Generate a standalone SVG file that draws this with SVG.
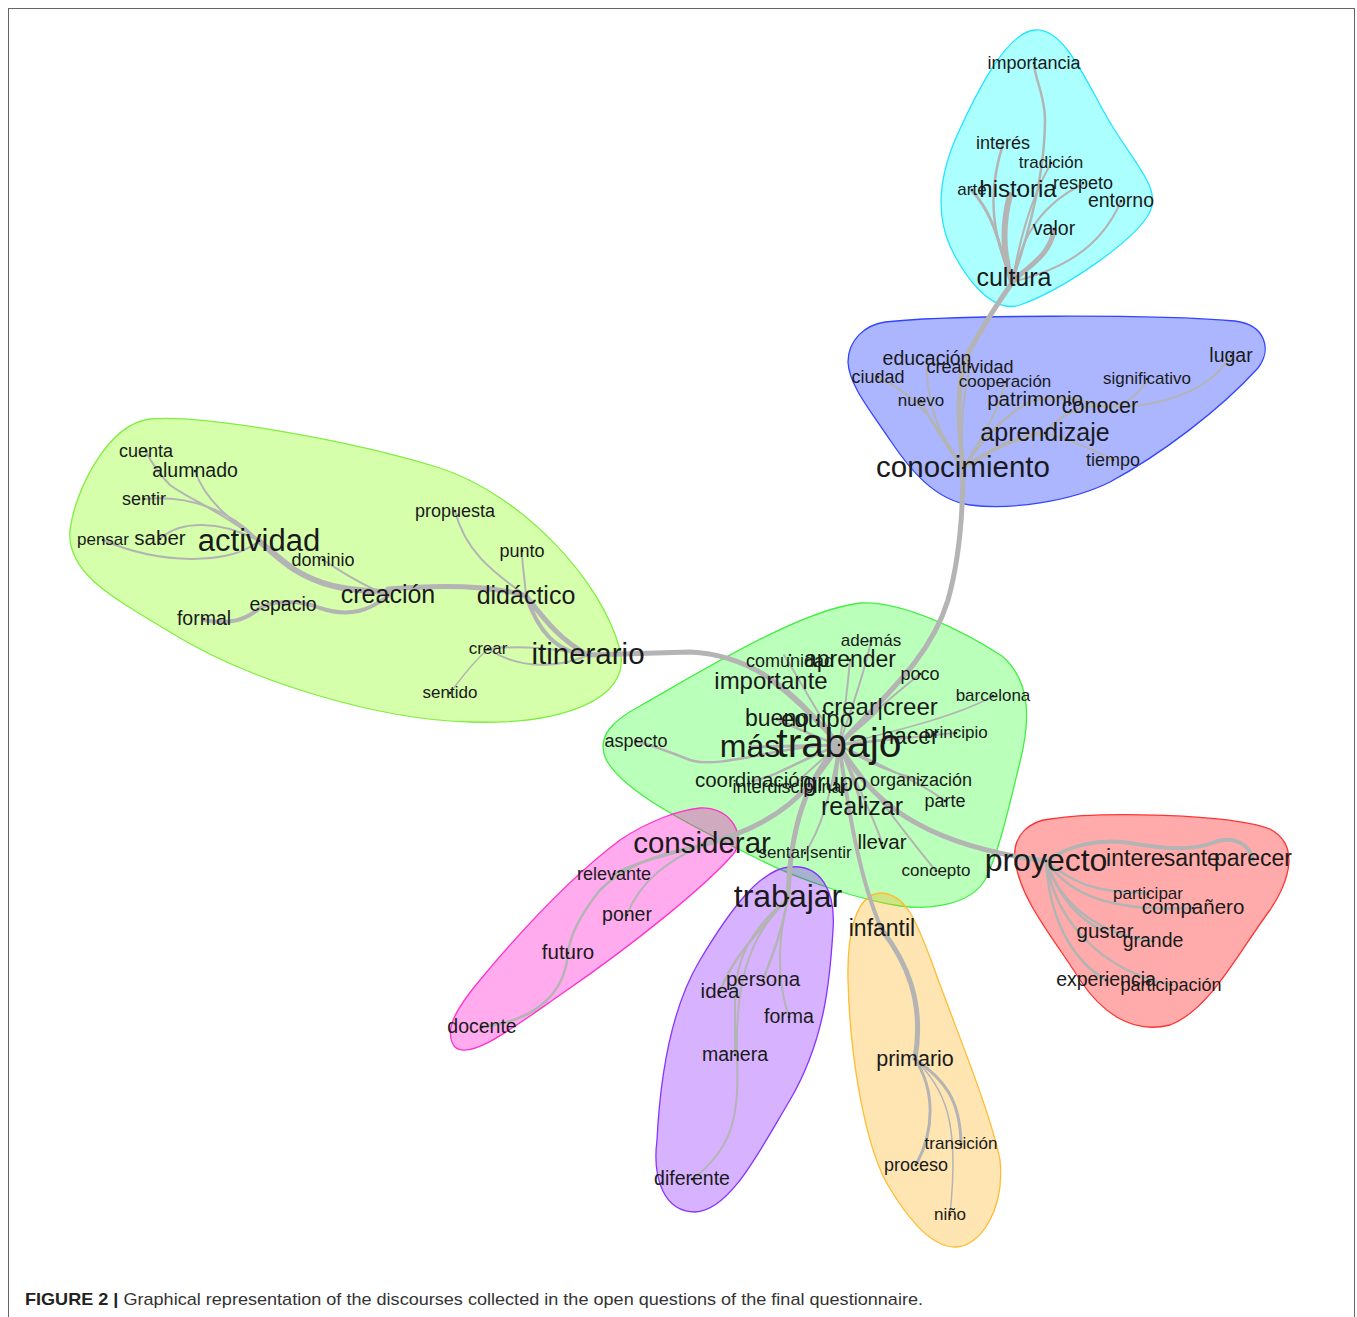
<svg xmlns="http://www.w3.org/2000/svg" width="1357" height="1317" viewBox="0 0 1357 1317">
<style>
.e{fill:none;stroke:#b4b4b4;stroke-linecap:round}
.t{font-family:"Liberation Sans",Arial,sans-serif;fill:#1a1a1a;text-anchor:middle}
.d{fill:#222}
.h{stroke-width:1.3}
</style>
<rect x="0" y="0" width="1357" height="1317" fill="#fff"/>
<rect x="8.5" y="8.5" width="1346" height="1340" fill="none" stroke="#666" stroke-width="1"/>
<g id="hulls">
<path id="hull-cyan" class="h" fill="#00ffff" fill-opacity="0.33" stroke="#22e6ff" d="M1035,30 C1062,28 1082,72 1104,112 C1130,160 1162,186 1150,212 C1134,242 1062,290 1020,305 C990,315 962,272 950,246 C935,212 940,176 955,140 C975,95 1006,32 1035,30 Z"/>
<path id="hull-blue" class="h" fill="#0022ff" fill-opacity="0.33" stroke="#3344ff" d="M885,322 C950,315 1150,314 1235,321 C1266,325 1272,350 1258,368 C1220,410 1160,455 1110,482 C1070,502 1010,510 970,505 C935,500 910,470 890,440 C870,410 849,385 848,362 C848,340 865,325 885,322 Z"/>
<path id="hull-leftgreen" class="h" fill="#80ff00" fill-opacity="0.33" stroke="#80ee40" d="M150,419 C200,414 350,440 440,468 C522,495 602,580 620,650 C632,700 560,725 470,722 C380,720 250,682 170,632 C110,596 66,572 70,530 C75,490 108,424 150,419 Z"/>
<path id="hull-centergreen" class="h" fill="#00ff00" fill-opacity="0.27" stroke="#44ee44" d="M860,603 C900,600 962,630 1002,656 C1032,682 1030,722 1020,762 C1010,802 1000,850 985,880 C970,905 930,910 900,906 C860,900 800,880 760,860 C700,830 620,792 605,757 C598,737 610,722 640,706 C700,672 800,610 860,603 Z"/>
<path id="hull-pink" class="h" fill="#ff00cc" fill-opacity="0.33" stroke="#ff33cc" d="M700,808 C726,806 746,830 735,852 C710,882 640,940 560,995 C510,1030 468,1062 454,1046 C444,1030 455,1010 480,980 C530,920 580,870 620,840 C650,820 680,810 700,808 Z"/>
<path id="hull-purple" class="h" fill="#7700ff" fill-opacity="0.3" stroke="#8833ff" d="M790,867 C820,864 836,890 833,930 C830,980 825,1040 790,1100 C760,1150 730,1211 695,1212 C665,1212 652,1180 657,1140 C660,1080 670,1010 700,960 C730,910 760,869 790,867 Z"/>
<path id="hull-orange" class="h" fill="#ffaa00" fill-opacity="0.3" stroke="#ffbb33" d="M880,893 C905,893 916,920 931,960 C956,1030 990,1110 1000,1160 C1005,1210 980,1247 955,1247 C930,1247 905,1215 885,1180 C865,1140 850,1060 848,980 C847,935 855,895 880,893 Z"/>
<path id="hull-red" class="h" fill="#ff0000" fill-opacity="0.33" stroke="#ff3333" d="M1050,819 C1100,811 1230,814 1270,829 C1300,845 1290,880 1270,910 C1240,950 1210,1010 1170,1025 C1130,1035 1100,1010 1080,980 C1055,940 1020,900 1015,860 C1012,835 1030,821 1050,819 Z"/>
</g>
<g id="connectors">
<path class="e" stroke-width="6" d="M1012,282 C1003,255 1002,225 1010,195"/>
<path class="e" stroke-width="3" d="M1012,282 C1000,250 995,215 972,191"/>
<path class="e" stroke-width="2.5" d="M1012,282 C995,240 985,200 1003,144"/>
<path class="e" stroke-width="2.5" d="M1012,282 C1030,230 1045,170 1045,120 C1045,95 1035,80 1034,64"/>
<path class="e" stroke-width="2" d="M1012,282 C1020,240 1030,200 1051,163"/>
<path class="e" stroke-width="5" d="M1012,282 C1030,265 1050,255 1054,230"/>
<path class="e" stroke-width="2" d="M1012,282 C1020,250 1030,210 1083,184"/>
<path class="e" stroke-width="2" d="M1012,282 C1060,270 1100,250 1121,201"/>
<path class="e" stroke-width="5" d="M963,468 C958,420 955,380 970,350 C985,322 1000,300 1014,280"/>
<path class="e" stroke-width="5" d="M839,745 C880,700 930,660 948,600 C962,550 963,500 963,468"/>
<path class="e" stroke-width="2" d="M963,468 C940,440 925,400 927,359"/>
<path class="e" stroke-width="2" d="M963,468 C940,430 920,395 878,378"/>
<path class="e" stroke-width="2" d="M963,468 C945,445 930,420 921,400"/>
<path class="e" stroke-width="2" d="M963,468 C960,430 962,400 970,367"/>
<path class="e" stroke-width="2" d="M963,468 C980,440 1000,410 1005,382"/>
<path class="e" stroke-width="2.5" d="M963,468 C990,430 1010,410 1035,400"/>
<path class="e" stroke-width="4" d="M963,468 C990,450 1020,435 1045,433"/>
<path class="e" stroke-width="2.5" d="M1045,433 C1060,415 1080,405 1100,406"/>
<path class="e" stroke-width="2.5" d="M1035,400 C1060,395 1080,398 1100,406"/>
<path class="e" stroke-width="2" d="M1100,406 C1120,410 1140,395 1147,379"/>
<path class="e" stroke-width="2" d="M1100,406 C1160,410 1210,390 1231,356"/>
<path class="e" stroke-width="2" d="M1045,433 C1070,440 1095,450 1113,460"/>
<path class="e" stroke-width="5" d="M839,745 C800,700 760,655 690,652 L588,655"/>
<path class="e" stroke-width="5" d="M588,655 C560,640 545,620 526,596"/>
<path class="e" stroke-width="4" d="M588,655 C555,652 538,630 526,596"/>
<path class="e" stroke-width="5" d="M526,596 C500,588 460,583 388,589"/>
<path class="e" stroke-width="6" d="M388,592 C340,590 320,585 295,570 C280,560 270,550 259,541"/>
<path class="e" stroke-width="4" d="M204,620 C230,625 245,620 260,608 C275,600 300,600 320,608 C350,618 370,610 388,596"/>
<path class="e" stroke-width="2" d="M388,595 C360,585 340,570 323,560"/>
<path class="e" stroke-width="2" d="M259,541 C220,510 190,500 170,485 C155,470 150,460 146,451"/>
<path class="e" stroke-width="2" d="M259,541 C230,520 205,500 195,471"/>
<path class="e" stroke-width="2" d="M259,541 C230,510 190,495 144,499"/>
<path class="e" stroke-width="2" d="M259,541 C220,520 180,520 160,539"/>
<path class="e" stroke-width="2" d="M259,541 C230,565 160,565 103,540"/>
<path class="e" stroke-width="2" d="M526,596 C490,570 465,550 455,511"/>
<path class="e" stroke-width="2" d="M526,596 C525,580 522,565 522,551"/>
<path class="e" stroke-width="2" d="M588,655 C550,648 520,645 488,649"/>
<path class="e" stroke-width="2" d="M588,655 C560,668 520,670 488,649"/>
<path class="e" stroke-width="1.5" d="M488,649 C470,665 460,680 450,693"/>
<path class="e" stroke-width="2" d="M839,745 C845,710 848,685 850,660"/>
<path class="e" stroke-width="2" d="M839,745 C815,710 800,680 784,655"/>
<path class="e" stroke-width="2" d="M839,745 C855,700 865,670 871,641"/>
<path class="e" stroke-width="2.5" d="M839,745 C810,715 790,695 771,682"/>
<path class="e" stroke-width="2" d="M839,745 C870,715 900,690 920,674"/>
<path class="e" stroke-width="1.5" d="M839,745 C900,730 960,715 993,696"/>
<path class="e" stroke-width="2.5" d="M839,745 C855,730 870,720 880,708"/>
<path class="e" stroke-width="2.5" d="M839,745 C810,735 790,725 777,719"/>
<path class="e" stroke-width="2.5" d="M839,745 L817,720"/>
<path class="e" stroke-width="2.5" d="M839,745 L910,737"/>
<path class="e" stroke-width="2" d="M839,745 C890,740 930,735 956,733"/>
<path class="e" stroke-width="2.5" d="M839,745 C780,745 720,770 690,760 C670,752 650,745 636,741"/>
<path class="e" stroke-width="3" d="M839,745 L750,747"/>
<path class="e" stroke-width="2.5" d="M839,745 C800,760 780,775 753,781"/>
<path class="e" stroke-width="2" d="M839,745 C815,765 800,780 790,787"/>
<path class="e" stroke-width="4" d="M839,745 L835,783"/>
<path class="e" stroke-width="2" d="M839,745 C870,765 900,775 921,780"/>
<path class="e" stroke-width="3" d="M839,745 C850,770 858,790 862,807"/>
<path class="e" stroke-width="2" d="M839,745 C890,770 925,785 945,801"/>
<path class="e" stroke-width="2" d="M839,745 C860,790 875,820 882,843"/>
<path class="e" stroke-width="2" d="M839,745 C830,800 820,830 805,853"/>
<path class="e" stroke-width="2" d="M839,745 C880,800 910,840 936,871"/>
<path class="e" stroke-width="5" d="M839,745 C870,800 920,845 1046,861"/>
<path class="e" stroke-width="5" d="M839,745 C810,790 780,825 702,845"/>
<path class="e" stroke-width="5" d="M839,745 C805,780 790,830 788,898"/>
<path class="e" stroke-width="4" d="M839,745 C850,820 860,880 882,930"/>
<path class="e" stroke-width="4" d="M1046,861 C1070,845 1100,838 1130,843 C1160,848 1190,852 1215,842 C1235,835 1250,845 1253,860"/>
<path class="e" stroke-width="2.5" d="M1046,861 C1070,880 1090,893 1148,893"/>
<path class="e" stroke-width="2.5" d="M1046,861 C1070,895 1110,912 1193,908"/>
<path class="e" stroke-width="2.5" d="M1046,861 C1060,900 1080,920 1105,932"/>
<path class="e" stroke-width="2.5" d="M1046,861 C1060,905 1100,935 1153,941"/>
<path class="e" stroke-width="2.5" d="M1046,861 C1050,930 1080,965 1106,980"/>
<path class="e" stroke-width="2.5" d="M1046,861 C1055,920 1100,970 1171,985"/>
<path class="e" stroke-width="2.5" d="M702,845 C670,855 640,860 614,874"/>
<path class="e" stroke-width="2" d="M702,845 C670,860 640,880 627,915"/>
<path class="e" stroke-width="2.5" d="M702,845 C650,855 620,870 600,890 C580,915 570,935 568,953 C565,990 540,1020 482,1027"/>
<path class="e" stroke-width="2.5" d="M788,898 C780,940 770,960 763,980"/>
<path class="e" stroke-width="2.5" d="M788,898 C760,930 730,960 720,992"/>
<path class="e" stroke-width="2" d="M788,898 C775,950 780,990 789,1017"/>
<path class="e" stroke-width="2" d="M788,898 C750,930 735,960 735,1000 C735,1030 735,1045 735,1055"/>
<path class="e" stroke-width="2" d="M788,898 C745,940 735,990 737,1060 C740,1120 730,1150 692,1180"/>
<path class="e" stroke-width="5" d="M882,930 C905,960 925,1000 915,1059"/>
<path class="e" stroke-width="3" d="M915,1059 C945,1080 960,1100 961,1143"/>
<path class="e" stroke-width="3" d="M915,1059 C935,1090 935,1130 916,1165"/>
<path class="e" stroke-width="1.5" d="M915,1059 C945,1090 960,1120 950,1214"/>
</g>
<g id="nodes">
<g id="n-importancia"><circle class="d" cx="1034" cy="63" r="1.3"/><text class="t" x="1034" y="69" font-size="18">importancia</text></g>
<g id="n-interes"><circle class="d" cx="1003" cy="143" r="1.3"/><text class="t" x="1003" y="149" font-size="18">interés</text></g>
<g id="n-tradicion"><circle class="d" cx="1051" cy="163" r="1.3"/><text class="t" x="1051" y="168" font-size="17">tradición</text></g>
<g id="n-arte"><circle class="d" cx="972" cy="190" r="1.3"/><text class="t" x="972" y="195" font-size="17">arte</text></g>
<g id="n-historia"><circle class="d" cx="1018" cy="190" r="1.3"/><text class="t" x="1018" y="197" font-size="24">historia</text></g>
<g id="n-respeto"><circle class="d" cx="1083" cy="183" r="1.3"/><text class="t" x="1083" y="189" font-size="18">respeto</text></g>
<g id="n-entorno"><circle class="d" cx="1121" cy="201" r="1.3"/><text class="t" x="1121" y="207" font-size="19.5">entorno</text></g>
<g id="n-valor"><circle class="d" cx="1054" cy="229" r="1.3"/><text class="t" x="1054" y="235" font-size="19.5">valor</text></g>
<g id="n-cultura"><circle class="d" cx="1014" cy="278" r="1.3"/><text class="t" x="1014" y="286" font-size="25">cultura</text></g>

<g id="n-educacion"><circle class="d" cx="927" cy="359" r="1.3"/><text class="t" x="927" y="365" font-size="19.5">educación</text></g>
<g id="n-creatividad"><circle class="d" cx="970" cy="367" r="1.3"/><text class="t" x="970" y="373" font-size="18">creatividad</text></g>
<g id="n-ciudad"><circle class="d" cx="878" cy="377" r="1.3"/><text class="t" x="878" y="383" font-size="18">ciudad</text></g>
<g id="n-cooperacion"><circle class="d" cx="1005" cy="382" r="1.3"/><text class="t" x="1005" y="387" font-size="17">cooperación</text></g>
<g id="n-nuevo"><circle class="d" cx="921" cy="401" r="1.3"/><text class="t" x="921" y="406" font-size="17">nuevo</text></g>
<g id="n-patrimonio"><circle class="d" cx="1035" cy="400" r="1.3"/><text class="t" x="1035" y="406" font-size="20.5">patrimonio</text></g>
<g id="n-significativo"><circle class="d" cx="1147" cy="379" r="1.3"/><text class="t" x="1147" y="384" font-size="17">significativo</text></g>
<g id="n-lugar"><circle class="d" cx="1231" cy="356" r="1.3"/><text class="t" x="1231" y="362" font-size="19.5">lugar</text></g>
<g id="n-conocer"><circle class="d" cx="1100" cy="406" r="1.3"/><text class="t" x="1100" y="413" font-size="21.5">conocer</text></g>
<g id="n-aprendizaje"><circle class="d" cx="1045" cy="433" r="1.3"/><text class="t" x="1045" y="441" font-size="25">aprendizaje</text></g>
<g id="n-tiempo"><circle class="d" cx="1113" cy="460" r="1.3"/><text class="t" x="1113" y="466" font-size="18">tiempo</text></g>
<g id="n-conocimiento"><circle class="d" cx="963" cy="468" r="1.3"/><text class="t" x="963" y="477" font-size="29.5">conocimiento</text></g>

<g id="n-cuenta"><circle class="d" cx="146" cy="451" r="1.3"/><text class="t" x="146" y="457" font-size="18">cuenta</text></g>
<g id="n-alumnado"><circle class="d" cx="195" cy="471" r="1.3"/><text class="t" x="195" y="477" font-size="19.5">alumnado</text></g>
<g id="n-sentir"><circle class="d" cx="144" cy="499" r="1.3"/><text class="t" x="144" y="505" font-size="18">sentir</text></g>
<g id="n-pensar"><circle class="d" cx="103" cy="540" r="1.3"/><text class="t" x="103" y="545" font-size="17">pensar</text></g>
<g id="n-saber"><circle class="d" cx="160" cy="539" r="1.3"/><text class="t" x="160" y="545" font-size="20.5">saber</text></g>
<g id="n-actividad"><circle class="d" cx="259" cy="541" r="1.3"/><text class="t" x="259" y="551" font-size="31">actividad</text></g>
<g id="n-dominio"><circle class="d" cx="323" cy="560" r="1.3"/><text class="t" x="323" y="566" font-size="18">dominio</text></g>
<g id="n-propuesta"><circle class="d" cx="455" cy="511" r="1.3"/><text class="t" x="455" y="517" font-size="18">propuesta</text></g>
<g id="n-punto"><circle class="d" cx="522" cy="551" r="1.3"/><text class="t" x="522" y="557" font-size="18">punto</text></g>
<g id="n-creacion"><circle class="d" cx="388" cy="595" r="1.3"/><text class="t" x="388" y="603" font-size="25">creación</text></g>
<g id="n-didactico"><circle class="d" cx="526" cy="596" r="1.3"/><text class="t" x="526" y="604" font-size="25">didáctico</text></g>
<g id="n-espacio"><circle class="d" cx="283" cy="605" r="1.3"/><text class="t" x="283" y="611" font-size="19.5">espacio</text></g>
<g id="n-formal"><circle class="d" cx="204" cy="619" r="1.3"/><text class="t" x="204" y="625" font-size="19.5">formal</text></g>
<g id="n-crear"><circle class="d" cx="488" cy="649" r="1.3"/><text class="t" x="488" y="654" font-size="17">crear</text></g>
<g id="n-itinerario"><circle class="d" cx="588" cy="655" r="1.3"/><text class="t" x="588" y="664" font-size="29.5">itinerario</text></g>
<g id="n-sentido"><circle class="d" cx="450" cy="693" r="1.3"/><text class="t" x="450" y="698" font-size="17">sentido</text></g>

<g id="n-ademas"><circle class="d" cx="871" cy="641" r="1.3"/><text class="t" x="871" y="646" font-size="17">además</text></g>
<g id="n-comunidad"><circle class="d" cx="790" cy="655" r="1.3"/><text class="t" x="790" y="667" font-size="18">comunidad</text></g>
<g id="n-aprender"><circle class="d" cx="850" cy="660" r="1.3"/><text class="t" x="850" y="667" font-size="23">aprender</text></g>
<g id="n-importante"><circle class="d" cx="771" cy="682" r="1.3"/><text class="t" x="771" y="689" font-size="24">importante</text></g>
<g id="n-poco"><circle class="d" cx="920" cy="674" r="1.3"/><text class="t" x="920" y="680" font-size="18">poco</text></g>
<g id="n-barcelona"><circle class="d" cx="993" cy="696" r="1.3"/><text class="t" x="993" y="701" font-size="17">barcelona</text></g>
<g id="n-crearcreer"><circle class="d" cx="880" cy="708" r="1.3"/><text class="t" x="880" y="715" font-size="24">crear|creer</text></g>
<g id="n-bueno"><circle class="d" cx="777" cy="719" r="1.3"/><text class="t" x="777" y="726" font-size="23">bueno</text></g>
<g id="n-equipo"><circle class="d" cx="817" cy="720" r="1.3"/><text class="t" x="817" y="727" font-size="24">equipo</text></g>
<g id="n-hacer"><circle class="d" cx="910" cy="737" r="1.3"/><text class="t" x="910" y="744" font-size="23">hacer</text></g>
<g id="n-principio"><circle class="d" cx="956" cy="733" r="1.3"/><text class="t" x="956" y="738" font-size="17">principio</text></g>
<g id="n-aspecto"><circle class="d" cx="636" cy="741" r="1.3"/><text class="t" x="636" y="747" font-size="18">aspecto</text></g>
<g id="n-mas"><circle class="d" cx="750" cy="747" r="1.3"/><text class="t" x="750" y="757" font-size="32">más</text></g>
<g id="n-trabajo"><circle class="d" cx="839" cy="745" r="1.3"/><text class="t" x="839" y="757" font-size="41">trabajo</text></g>
<g id="n-coordinacion"><circle class="d" cx="753" cy="781" r="1.3"/><text class="t" x="753" y="787" font-size="20.5">coordinación</text></g>
<g id="n-interdisciplinar"><circle class="d" cx="790" cy="787" r="1.3"/><text class="t" x="790" y="793" font-size="18">interdisciplinar</text></g>
<g id="n-grupo"><circle class="d" cx="835" cy="783" r="1.3"/><text class="t" x="835" y="791" font-size="25">grupo</text></g>
<g id="n-organizacion"><circle class="d" cx="921" cy="780" r="1.3"/><text class="t" x="921" y="786" font-size="18">organización</text></g>
<g id="n-realizar"><circle class="d" cx="862" cy="807" r="1.3"/><text class="t" x="862" y="815" font-size="25">realizar</text></g>
<g id="n-parte"><circle class="d" cx="945" cy="801" r="1.3"/><text class="t" x="945" y="807" font-size="18">parte</text></g>
<g id="n-llevar"><circle class="d" cx="882" cy="843" r="1.3"/><text class="t" x="882" y="849" font-size="20.5">llevar</text></g>
<g id="n-sentarsentir"><circle class="d" cx="805" cy="853" r="1.3"/><text class="t" x="805" y="858" font-size="17">sentar|sentir</text></g>
<g id="n-concepto"><circle class="d" cx="936" cy="871" r="1.3"/><text class="t" x="936" y="876" font-size="17">concepto</text></g>

<g id="n-proyecto"><circle class="d" cx="1046" cy="861" r="1.3"/><text class="t" x="1046" y="871" font-size="32">proyecto</text></g>
<g id="n-interesante"><circle class="d" cx="1163" cy="859" r="1.3"/><text class="t" x="1163" y="866" font-size="23">interesante</text></g>
<g id="n-parecer"><circle class="d" cx="1253" cy="859" r="1.3"/><text class="t" x="1253" y="866" font-size="23">parecer</text></g>
<g id="n-participar"><circle class="d" cx="1148" cy="894" r="1.3"/><text class="t" x="1148" y="899" font-size="17">participar</text></g>
<g id="n-companero"><circle class="d" cx="1193" cy="908" r="1.3"/><text class="t" x="1193" y="914" font-size="20.5">compañero</text></g>
<g id="n-gustar"><circle class="d" cx="1105" cy="932" r="1.3"/><text class="t" x="1105" y="938" font-size="20.5">gustar</text></g>
<g id="n-grande"><circle class="d" cx="1153" cy="941" r="1.3"/><text class="t" x="1153" y="947" font-size="19.5">grande</text></g>
<g id="n-experiencia"><circle class="d" cx="1106" cy="980" r="1.3"/><text class="t" x="1106" y="986" font-size="19.5">experiencia</text></g>
<g id="n-participacion"><circle class="d" cx="1171" cy="985" r="1.3"/><text class="t" x="1171" y="991" font-size="18">participación</text></g>

<g id="n-considerar"><circle class="d" cx="702" cy="845" r="1.3"/><text class="t" x="702" y="853" font-size="29.5">considerar</text></g>
<g id="n-relevante"><circle class="d" cx="614" cy="874" r="1.3"/><text class="t" x="614" y="880" font-size="18">relevante</text></g>
<g id="n-poner"><circle class="d" cx="627" cy="915" r="1.3"/><text class="t" x="627" y="921" font-size="19.5">poner</text></g>
<g id="n-futuro"><circle class="d" cx="568" cy="953" r="1.3"/><text class="t" x="568" y="959" font-size="20.5">futuro</text></g>
<g id="n-docente"><circle class="d" cx="482" cy="1027" r="1.3"/><text class="t" x="482" y="1033" font-size="19.5">docente</text></g>

<g id="n-trabajar"><circle class="d" cx="788" cy="898" r="1.3"/><text class="t" x="788" y="907" font-size="32">trabajar</text></g>
<g id="n-persona"><circle class="d" cx="763" cy="980" r="1.3"/><text class="t" x="763" y="986" font-size="20.5">persona</text></g>
<g id="n-idea"><circle class="d" cx="720" cy="992" r="1.3"/><text class="t" x="720" y="998" font-size="20.5">idea</text></g>
<g id="n-forma"><circle class="d" cx="789" cy="1017" r="1.3"/><text class="t" x="789" y="1023" font-size="19.5">forma</text></g>
<g id="n-manera"><circle class="d" cx="735" cy="1055" r="1.3"/><text class="t" x="735" y="1061" font-size="19.5">manera</text></g>
<g id="n-diferente"><circle class="d" cx="692" cy="1179" r="1.3"/><text class="t" x="692" y="1185" font-size="19.5">diferente</text></g>

<g id="n-infantil"><circle class="d" cx="882" cy="929" r="1.3"/><text class="t" x="882" y="936" font-size="23">infantil</text></g>
<g id="n-primario"><circle class="d" cx="915" cy="1059" r="1.3"/><text class="t" x="915" y="1066" font-size="21.5">primario</text></g>
<g id="n-transicion"><circle class="d" cx="961" cy="1144" r="1.3"/><text class="t" x="961" y="1149" font-size="17">transición</text></g>
<g id="n-proceso"><circle class="d" cx="916" cy="1165" r="1.3"/><text class="t" x="916" y="1171" font-size="18">proceso</text></g>
<g id="n-nino"><circle class="d" cx="950" cy="1215" r="1.3"/><text class="t" x="950" y="1220" font-size="17">niño</text></g>
</g>
<text x="25" y="1305" font-family="'Liberation Sans',Arial,sans-serif" font-size="17" fill="#333" textLength="898" lengthAdjust="spacingAndGlyphs"><tspan font-weight="bold" fill="#222">FIGURE 2 |</tspan> Graphical representation of the discourses collected in the open questions of the final questionnaire.</text>
</svg>
